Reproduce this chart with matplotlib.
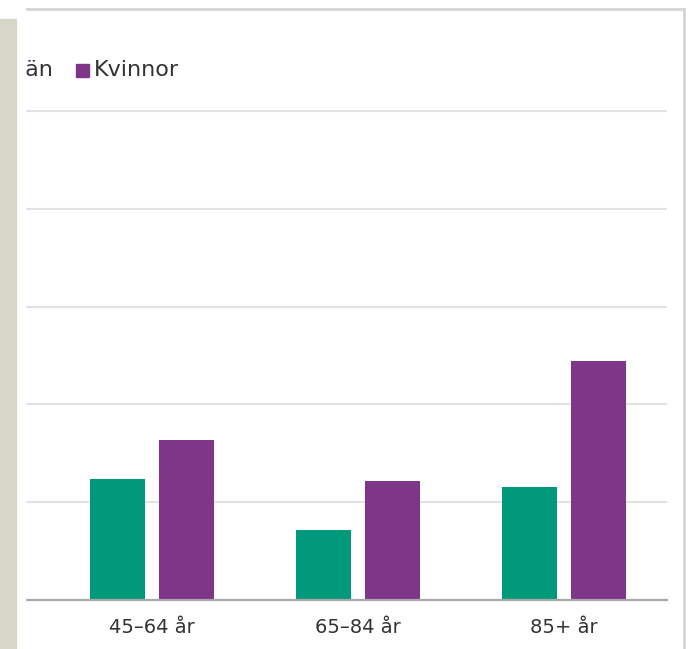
import matplotlib.pyplot as plt
from matplotlib.patches import Rectangle
from matplotlib.lines import Line2D
import numpy as np

categories = ["45–64 år", "65–84 år", "85+ år"]
man = [6.2, 3.6, 5.8]
kvinnor = [8.2, 6.1, 12.2]
series_names = ["Män", "Kvinnor"]

GREEN = "#00997b"
PURPLE = "#7f3588"
TEXT = "#333333"


def main():
    W, H = 692, 649
    fig = plt.figure(figsize=(W / 100, H / 100), dpi=100)

    # axes in pixel terms: x 25..667, baseline at y=600, 97.8 px per 5 units
    top_px = 100
    ax = fig.add_axes([25 / W, 1 - 600 / H, (667 - 25) / W, (600 - top_px) / H])
    x = np.arange(len(categories))
    width = 0.267
    off = 0.166
    ax.bar(x - off, man, width, color=GREEN, zorder=3)
    ax.bar(x + off, kvinnor, width, color=PURPLE, zorder=3)

    ax.set_xlim(-0.6165, 2.5)
    ax.set_ylim(0, (600 - top_px) / 97.8 * 5)
    ax.set_yticks([5, 10, 15, 20, 25])
    ax.yaxis.grid(True, color="#e2e2e2", linewidth=1.5)
    ax.tick_params(axis="y", left=False, labelleft=False)
    ax.set_xticks(x)
    ax.set_xticklabels(categories, fontsize=14, color=TEXT)
    ax.tick_params(axis="x", length=0, pad=13)
    for s in ["top", "right", "left"]:
        ax.spines[s].set_visible(False)
    ax.spines["bottom"].set_color("#a8a8a8")
    ax.spines["bottom"].set_linewidth(1.6)
    ax.spines["bottom"].set_zorder(4)
    ax.set_facecolor("none")

    # legend, left part cut off as in the crop
    fig.text(7 / W, 1 - 70 / H, series_names[0], fontsize=16, color=TEXT,
             va="center", ha="left")
    fig.patches.append(Rectangle((76 / W, 1 - 77 / H), 13 / W, 13 / H,
                                 transform=fig.transFigure, color=PURPLE))
    fig.text(94 / W, 1 - 70 / H, series_names[1], fontsize=16, color=TEXT,
             va="center", ha="left")

    # frame of the crop
    fig.patches.append(Rectangle((16 / W, 0), 9 / W, 1, transform=fig.transFigure,
                                 color="white", zorder=10))
    fig.patches.append(Rectangle((0, 0), 16 / W, 1 - 19 / H, transform=fig.transFigure,
                                 color="#d7d7c9", zorder=11))
    fig.lines.append(Line2D([26 / W, 684 / W], [1 - 9 / H, 1 - 9 / H],
                            transform=fig.transFigure, color="#d4d4d4", linewidth=2))
    fig.lines.append(Line2D([684 / W, 684 / W], [0, 1 - 9 / H],
                            transform=fig.transFigure, color="#d4d4d4", linewidth=2))

    fig.savefig("out.png", dpi=100)


if __name__ == "__main__":
    main()
